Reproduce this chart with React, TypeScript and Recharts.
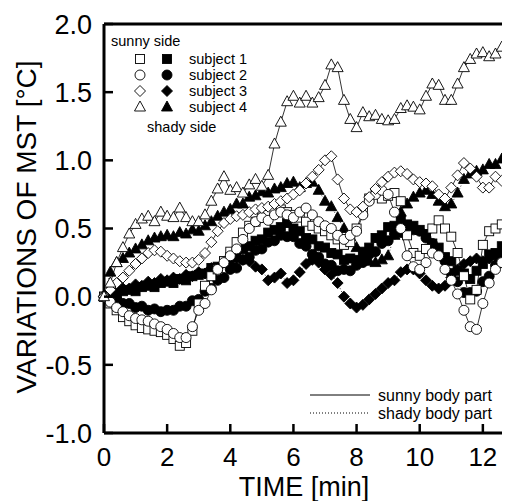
import React from 'react';
import { LineChart, Line, XAxis, YAxis, ReferenceLine } from 'recharts';

const times = [0,0.2,0.4,0.6,0.8,1,1.2,1.4,1.6,1.8,2,2.2,2.4,2.6,2.8,3,3.2,3.4,3.6,3.8,4,4.2,4.4,4.6,4.8,5,5.2,5.4,5.6,5.8,6,6.2,6.4,6.6,6.8,7,7.2,7.4,7.6,7.8,8,8.2,8.4,8.6,8.8,9,9.2,9.4,9.6,9.8,10,10.2,10.4,10.6,10.8,11,11.2,11.4,11.6,11.8,12,12.2,12.4,12.6,12.8,13];

const sunny1 = [0,-0.05,-0.1,-0.15,-0.18, -0.21,-0.23,-0.24,-0.25,-0.26, -0.28,-0.31,-0.36,-0.34,-0.25, -0.05,0.08,0.15,0.2,0.26, 0.33,0.4,0.47,0.52,0.55, 0.58,0.6,0.62,0.64,0.62, 0.6,0.58,0.55,0.52,0.5, 0.48,0.45,0.42,0.38,0.4, 0.5,0.62,0.72,0.76,0.72, 0.74,0.76,0.7,0.45,0.32, 0.3,0.35,0.5,0.56,0.5, 0.44,0.32,0.15,-0.02,0.05, 0.38,0.48,0.5,0.53,0.58, 0.62];
const sunny2 = [0,-0.04,-0.08,-0.11,-0.14, -0.16,-0.17,-0.18,-0.2,-0.22, -0.24,-0.27,-0.3,-0.3,-0.22, -0.1,-0.05,0.05,0.2,0.25, 0.3,0.35,0.42,0.5,0.55, 0.58,0.56,0.6,0.62,0.6, 0.58,0.62,0.65,0.6,0.55, 0.52,0.5,0.45,0.42,0.45, 0.48,0.6,0.7,0.75,0.78, 0.75,0.62,0.5,0.3,0.22, 0.2,0.25,0.32,0.3,0.2, 0.12,0.02,-0.1,-0.22,-0.24, -0.05,0.1,0.2,0.25,0.3, 0.35];
const sunny3 = [0,0.05,0.1,0.14,0.19, 0.24,0.28,0.32,0.34,0.33, 0.3,0.28,0.26,0.25,0.25, 0.27,0.32,0.4,0.48,0.54, 0.57,0.59,0.6,0.62,0.64, 0.65,0.66,0.68,0.7,0.72, 0.75,0.78,0.83,0.88,0.93, 1.0,1.03,0.86,0.72,0.64, 0.62,0.66,0.73,0.79,0.84, 0.88,0.91,0.92,0.9,0.86, 0.84,0.83,0.81,0.75,0.72, 0.8,0.89,0.98,0.94,0.88, 0.8,0.8,0.88,0.85,0.8, 0.78];
const sunny4 = [0,0.1,0.25,0.36,0.46, 0.53,0.57,0.59,0.55,0.62, 0.59,0.58,0.65,0.58,0.55, 0.55,0.6,0.7,0.79,0.88, 0.78,0.8,0.76,0.82,0.86, 0.81,0.89,1.12,1.28,1.43, 1.47,1.42,1.47,1.42,1.46, 1.55,1.7,1.68,1.44,1.3, 1.24,1.35,1.32,1.33,1.3, 1.29,1.3,1.38,1.4,1.39, 1.37,1.47,1.56,1.55,1.44, 1.44,1.56,1.68,1.74,1.78, 1.79,1.76,1.78,1.83,1.7, 1.65];

const shady1 = [0,0.02,0.01,0.04,0.05, 0.04,0.07,0.08,0.07,0.1, 0.11,0.1,0.13,0.12,0.15, 0.16,0.17,0.21,0.22,0.26, 0.29,0.3,0.35,0.37,0.41, 0.42,0.47,0.49,0.51,0.54, 0.5,0.48,0.43,0.42,0.37, 0.36,0.32,0.31,0.27,0.28, 0.27,0.33,0.36,0.43,0.45, 0.51,0.52,0.56,0.53,0.52, 0.49,0.46,0.39,0.36,0.29, 0.26,0.19,0.17,0.13,0.19, 0.24,0.31,0.32,0.37,0.38, 0.41];
const shady2 = [0,-0.02,-0.01,-0.05,-0.05, -0.08,-0.07,-0.1,-0.09,-0.11, -0.1,-0.1,-0.07,-0.07,-0.03, -0.02,0.04,0.06,0.12,0.14, 0.2,0.21,0.27,0.29,0.34, 0.35,0.4,0.41,0.45,0.44, 0.44,0.39,0.37,0.31,0.29, 0.24,0.23,0.19,0.2,0.19, 0.23,0.25,0.31,0.33,0.39, 0.41,0.46,0.47,0.51,0.49, 0.48,0.43,0.39,0.31,0.26, 0.17,0.11,0.03,0.03,0.04, 0.11,0.15,0.23,0.25,0.31, 0.32];
const shady3 = [0,0.03,0.03,0.06,0.06, 0.09,0.08,0.11,0.1,0.13, 0.12,0.14,0.13,0.16,0.15, 0.18,0.17,0.21,0.21,0.25, 0.24,0.28,0.27,0.26,0.22, 0.2,0.12,0.14,0.17,0.1, 0.12,0.18,0.24,0.27,0.25, 0.2,0.16,0.1,0.0,-0.05, -0.08,-0.06,-0.02,0.02,0.06, 0.1,0.12,0.18,0.2,0.2, 0.17,0.12,0.08,0.06,0.08, 0.14,0.2,0.24,0.26,0.28, 0.26,0.28,0.3,0.32,0.34, 0.35];
const shady4 = [0,0.18,0.25,0.28,0.32, 0.35,0.38,0.41,0.43,0.44, 0.45,0.44,0.47,0.46,0.49, 0.48,0.52,0.55,0.59,0.62, 0.64,0.68,0.68,0.73,0.74, 0.77,0.76,0.79,0.8,0.83, 0.84,0.8,0.83,0.84,0.78, 0.7,0.66,0.58,0.5,0.44, 0.36,0.3,0.26,0.25,0.27, 0.3,0.45,0.62,0.68,0.73, 0.76,0.78,0.75,0.7,0.66, 0.68,0.76,0.86,0.9,0.92, 0.93,0.97,0.97,1.01,1.02, 1.03];

const xTicks = [0, 2, 4, 6, 8, 10, 12];
const yTicks = [-1.0, -0.5, 0.0, 0.5, 1.0, 1.5, 2.0];
const subjectLabels = ['subject 1', 'subject 2', 'subject 3', 'subject 4'];
const shapes = ['square', 'circle', 'diamond', 'triangle'];

const data = times.map((t, i) => ({
  t,
  s1: sunny1[i], s2: sunny2[i], s3: sunny3[i], s4: sunny4[i],
  f1: shady1[i], f2: shady2[i], f3: shady3[i], f4: shady4[i],
}));

const FONT = '"Liberation Sans", Arial, Helvetica, sans-serif';

function markerEl(shape: string, filled: boolean, cx: number, cy: number, key?: string) {
  const p = { fill: filled ? '#000' : '#fff', stroke: '#000', strokeWidth: 0.9 };
  if (shape === 'square') return <rect key={key} x={cx - 4.5} y={cy - 4.5} width={9} height={9} {...p} />;
  if (shape === 'circle') return <circle key={key} cx={cx} cy={cy} r={5} {...p} />;
  if (shape === 'diamond')
    return <polygon key={key} points={`${cx},${cy - 5.5} ${cx + 5.5},${cy} ${cx},${cy + 5.5} ${cx - 5.5},${cy}`} {...p} />;
  return <polygon key={key} points={`${cx},${cy - 6} ${cx + 5.5},${cy + 4} ${cx - 5.5},${cy + 4}`} {...p} />;
}

const makeDot = (shape: string, filled: boolean, id: string) => (props: any) => {
  const { cx, cy, index } = props;
  if (cx == null || cy == null) return <g key={`${id}-${index}`} />;
  return markerEl(shape, filled, cx, cy, `${id}-${index}`);
};

const XTick = (props: any) => {
  const { x, y, payload } = props;
  return (
    <g>
      <line x1={x} x2={x} y1={y} y2={y - 9} stroke="#000" strokeWidth={2.5} />
      <text x={x} y={y + 33} textAnchor="middle" fontSize={26} fontFamily={FONT} fill="#000">
        {payload.value}
      </text>
    </g>
  );
};

const YTick = (props: any) => {
  const { x, y, payload } = props;
  return (
    <g>
      <line x1={x} x2={x + 9} y1={y} y2={y} stroke="#000" strokeWidth={2.5} />
      <text x={x - 12} y={y} dy="0.36em" textAnchor="end" fontSize={27} fontFamily={FONT} fill="#000">
        {Number(payload.value).toFixed(1)}
      </text>
    </g>
  );
};

export default function App() {
  const sunnyKeys = ['s1', 's2', 's3', 's4'];
  const shadyKeys = ['f1', 'f2', 'f3', 'f4'];
  const rowsY = [51, 67, 83, 99];
  return (
    <div style={{ position: 'relative', width: 502, height: 493, overflow: 'hidden', background: '#fff' }}>
      <style>{`html,body{overflow:hidden;background:#fff}`}</style>
      <LineChart width={560} height={493} data={data} margin={{ top: 16, right: 22, bottom: 0, left: 0 }}>
        <XAxis
          dataKey="t"
          type="number"
          domain={[0, 14]}
          ticks={xTicks}
          height={68}
          tickSize={0}
          tickMargin={0}
          tickLine={false}
          tick={XTick}
          axisLine={{ stroke: '#000', strokeWidth: 3 }}
          interval={0}
        />
        <YAxis
          type="number"
          domain={[-1, 2]}
          ticks={yTicks}
          width={96}
          tickSize={0}
          tickMargin={0}
          tickLine={false}
          tick={YTick}
          axisLine={{ stroke: '#000', strokeWidth: 3 }}
          interval={0}
          allowDataOverflow
        />
        <ReferenceLine y={2} stroke="#000" strokeWidth={3} />
        <ReferenceLine x={14} stroke="#000" strokeWidth={3} />
        {shadyKeys.map((k, i) => (
          <Line
            key={k}
            dataKey={k}
            type="linear"
            stroke="#000"
            strokeWidth={0.8}
            strokeDasharray="1 2"
            dot={makeDot(shapes[i], true, k)}
            activeDot={false}
            isAnimationActive={false}
          />
        ))}
        {sunnyKeys.map((k, i) => (
          <Line
            key={k}
            dataKey={k}
            type="linear"
            stroke="#000"
            strokeWidth={0.8}
            dot={makeDot(shapes[i], false, k)}
            activeDot={false}
            isAnimationActive={false}
          />
        ))}
      </LineChart>
      <svg
        width={502}
        height={493}
        style={{ position: 'absolute', left: 0, top: 0, pointerEvents: 'none' }}
        fontFamily={FONT}
      >
        <text x={103} y={33} dy="0.35em" fontSize={14.5} fill="#000">sunny side</text>
        {subjectLabels.map((lab, i) => (
          <g key={lab}>
            {markerEl(shapes[i], false, 132, rowsY[i])}
            {markerEl(shapes[i], true, 159, rowsY[i])}
            <text x={181} y={rowsY[i]} dy="0.35em" fontSize={14.5} fill="#000">{lab}</text>
          </g>
        ))}
        <text x={139} y={119} dy="0.35em" fontSize={14.5} fill="#000">shady side</text>
        <line x1={302} x2={362} y1={387} y2={387} stroke="#000" strokeWidth={1} />
        <text x={370} y={387} dy="0.35em" fontSize={16} fill="#000">sunny body part</text>
        <line x1={302} x2={362} y1={405} y2={405} stroke="#000" strokeWidth={1} strokeDasharray="1 2" />
        <text x={370} y={405} dy="0.35em" fontSize={16} fill="#000">shady body part</text>
        <text x={296} y={488} textAnchor="middle" fontSize={27} fill="#000">TIME [min]</text>
        <text
          x={18}
          y={219}
          transform="rotate(-90 18 219)"
          textAnchor="middle"
          dy="0.36em"
          fontSize={28}
          fill="#000"
        >
          VARIATIONS OF MST [°C]
        </text>
      </svg>
    </div>
  );
}
